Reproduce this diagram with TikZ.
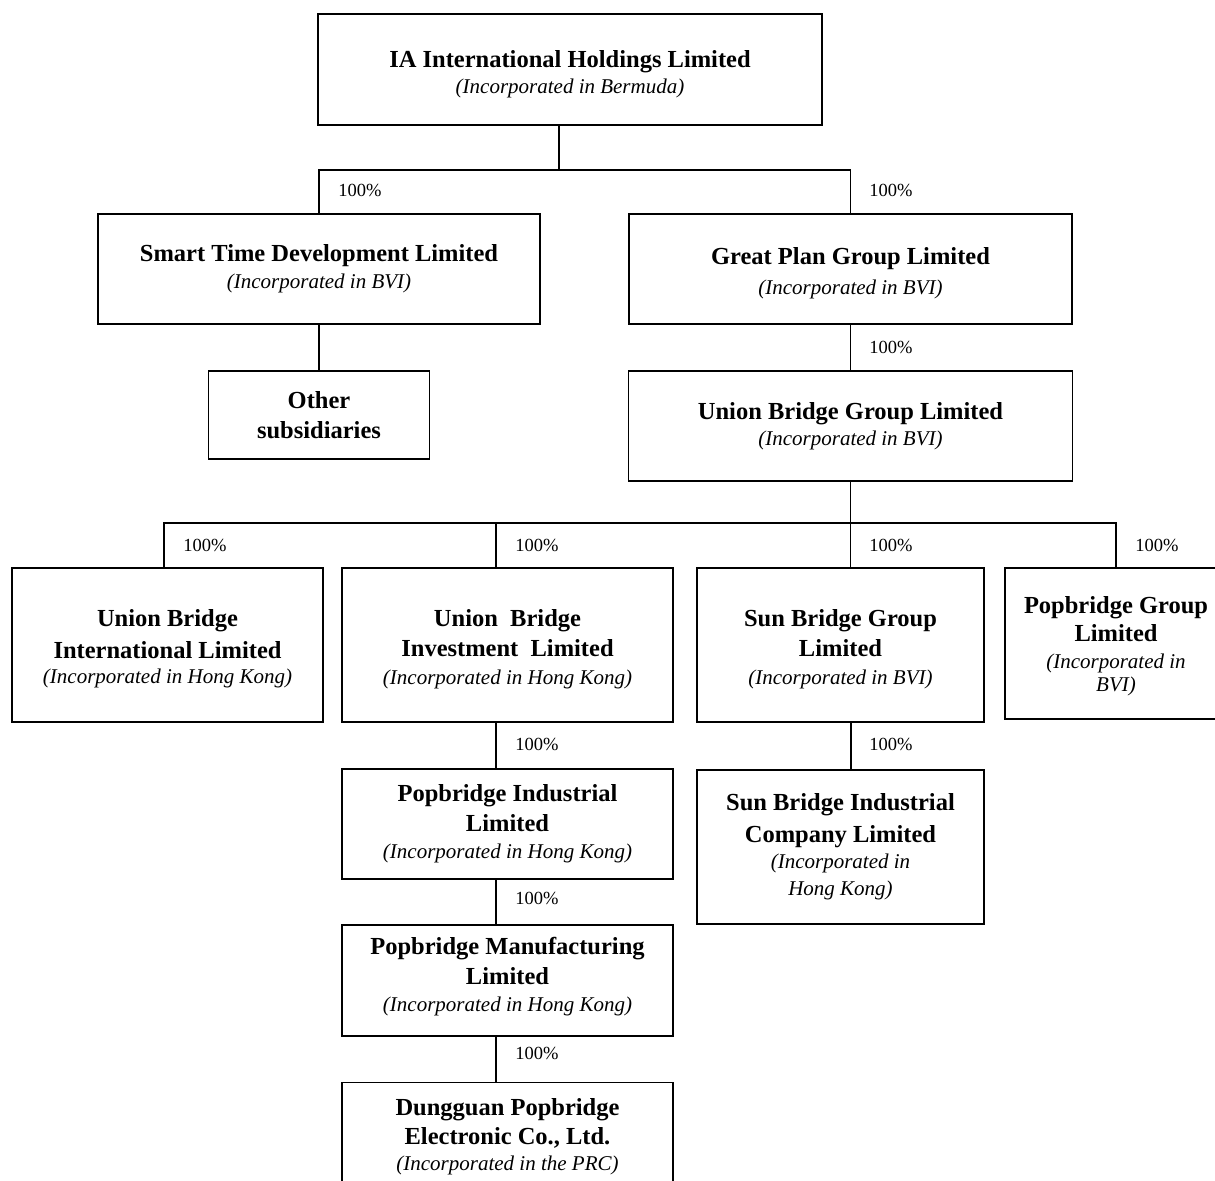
\documentclass[tikz,border=0pt]{standalone}
\usepackage{fontspec}
\setmainfont{Liberation Serif}
\usepackage{tikz}
\usetikzlibrary{positioning}

\newcommand{\co}[1]{{\fontsize{12.25}{13.5}\selectfont\bfseries #1}}
\newcommand{\inc}[1]{{\itshape #1}}
% struts to nudge a box's text down or up
\newcommand{\hstrut}[1]{\rule{0pt}{#1}}
\newcommand{\dstrut}[1]{\rule[-#1]{0pt}{0pt}}

\begin{document}
\begin{tikzpicture}[x=0.5pt, y=-0.5pt,
        company/.style={draw, line width=0.9pt, align=center, inner sep=0pt,
            font=\fontsize{10.5}{13.5}\selectfont},
        wh/.style 2 args={minimum width=#1*0.5pt, minimum height=#2*0.5pt},
        share/.style={anchor=west, inner sep=0pt, font=\fontsize{9.25}{11}\selectfont},
        link/.style={line width=0.75pt}
    ]
    \useasboundingbox (0,0) rectangle (1215,1180);

    % holding company and first level
    \node[company, wh={504}{111}] (top) at (570,69.5)
        {\hstrut{13.5pt}\co{IA International Holdings Limited}\\[-0.5pt]\inc{(Incorporated in Bermuda)}};
    \node[company, wh={442}{110}] (smart) at (319,269)
        {\co{Smart Time Development Limited}\\\inc{(Incorporated in BVI)}};
    \node[company, wh={443}{110}] (great) at (850.5,269)
        {\hstrut{12.5pt}\co{Great Plan Group Limited}\\[1.5pt]\inc{(Incorporated in BVI)}};
    \node[company, wh={221}{88}, below=22.5pt of smart] (other)
        {\co{Other}\\[1.5pt]\co{subsidiaries}};
    \node[company, wh={444}{110}, below=22.5pt of great] (ubg)
        {\co{Union Bridge Group Limited}\\[-0.5pt]\inc{(Incorporated in BVI)}};

    % subsidiaries of Union Bridge Group
    \node[company, wh={311}{154}] (ubi) at (167.5,645)
        {\hstrut{12.5pt}\co{Union Bridge}\\[2.5pt]\co{International Limited}\\[-1pt]\inc{(Incorporated in Hong Kong)}};
    \node[company, wh={331}{154}] (ubinv) at (507.5,645)
        {\hstrut{12.5pt}\co{Union~ Bridge}\\[1.5pt]\co{Investment~ Limited}\\[0.5pt]\inc{(Incorporated in Hong Kong)}};
    \node[company, wh={287}{154}] (sbg) at (840.5,645)
        {\hstrut{12.5pt}\co{Sun Bridge Group}\\[1.5pt]\co{Limited}\\[0.5pt]\inc{(Incorporated in BVI)}};
    \node[company, wh={222}{151}] (pgl) at (1116,643.5)
        {\hstrut{11pt}\co{Popbridge Group}\\[0.5pt]\co{Limited}\\\inc{(Incorporated in}\\[-2pt]\inc{BVI)}};

    % lower chains
    \node[company, wh={331}{110}, below=22.5pt of ubinv] (pi)
        {\co{Popbridge Industrial}\\[1.5pt]\co{Limited}\\\inc{(Incorporated in Hong Kong)}};
    \node[company, wh={331}{111}, below=22pt of pi] (pm)
        {\co{Popbridge Manufacturing}\\[1.5pt]\co{Limited}\\\inc{(Incorporated in Hong Kong)\dstrut{5.3pt}}};
    \node[company, wh={331}{115}, below=22.5pt of pm] (dpe)
        {\co{Dungguan Popbridge}\\[1pt]\co{Electronic Co., Ltd.}\\[-0.5pt]\inc{(Incorporated in the PRC)\dstrut{5.3pt}}};
    \node[company, wh={287}{154}, below=23pt of sbg] (sbi)
        {\co{Sun Bridge Industrial}\\[2.5pt]\co{Company Limited}\\[-0.5pt]\inc{(Incorporated in}\\\inc{Hong Kong)}};

    % connectors
    \coordinate (j1) at (559,170);
    \draw[link] (top.south -| j1) -- (j1);
    \draw[link] (smart.north) |- (j1) -| (great.north);
    \draw[link] (smart.south) -- (other.north);
    \draw[link] (great.south) -- (ubg.north);
    \coordinate (j2) at (ubg.south |- 0,523);
    \draw[link] (ubg.south) -- (j2);
    \foreach \n/\x in {ubi/164, ubinv/496, sbg/850.5, pgl/1116} {
        \draw[link] (j2) -| (\x,0 |- \n.north);
    }
    \foreach \a/\b in {ubinv/pi, pi/pm, pm/dpe} {
        \draw[link] (496,0 |- \a.south) -- (496,0 |- \b.north);
    }
    \draw[link] (851,0 |- sbg.south) -- (851,0 |- sbi.north);

    % ownership shares
    \foreach \i/\x/\y in {1/338/190, 2/869/190, 3/869/347, 4/183/545, 5/515/545,
            6/869/545, 7/1135/545, 8/515/744, 9/869/744, 10/515/898, 11/515/1053} {
        \node[share] (s\i) at (\x,\y) {100\%};
    }
\end{tikzpicture}
\end{document}
